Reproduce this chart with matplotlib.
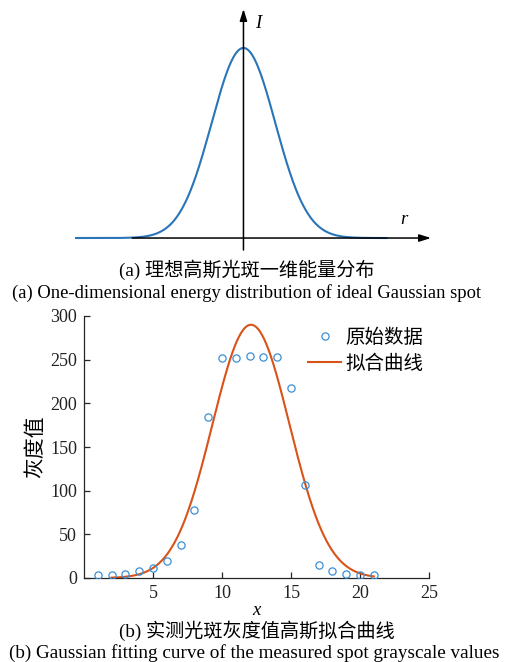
import numpy as np
import matplotlib
matplotlib.use("Agg")
import matplotlib.pyplot as plt
from matplotlib.lines import Line2D

# ---------------- data ----------------
# (b) measured spot grayscale values
pixel_x = [1, 2, 3, 4, 5, 6, 7, 8, 9, 10, 11, 12, 13, 14, 15, 16, 17, 18, 19, 20, 21]
gray_vals = [3, 4, 5, 8, 11, 20, 38, 78, 184, 252, 252, 254, 253, 253, 218, 106, 15, 8, 5, 4, 3]
# Gaussian fit parameters (a * exp(-((x-b)/c)^2))
fit_a = 290.0
fit_b = 12.1
fit_c = 3.95
fit_range = (2.0, 21.0)
x_ticks = [5, 10, 15, 20, 25]
y_ticks = [0, 50, 100, 150, 200, 250, 300]
legend_labels = ["原始数据", "拟合曲线"]

# (a) ideal Gaussian spot
ideal_sigma = 1.0
ideal_peak = 1.0
ideal_r_range = (-5.3, 4.5)

cap_a_cn = "(a) 理想高斯光斑一维能量分布"
cap_a_en = "(a) One-dimensional energy distribution of ideal Gaussian spot"
cap_b_cn = "(b) 实测光斑灰度值高斯拟合曲线"
cap_b_en = "(b) Gaussian fitting curve of the measured spot grayscale values"

# ---------------- style ----------------
SERIF = ["Liberation Serif", "DejaVu Serif"]
MIX = ["Liberation Serif", "Noto Sans CJK SC"]
CJK = ["Noto Sans CJK SC", "DejaVu Sans"]
BLUE = "#3a8fd6"
ORANGE = "#d95319"
AXC = "#262626"

W, H = 514, 662
fig = plt.figure(figsize=(W / 100, H / 100), dpi=100)

def fx(px):
    return px / W

def fy(py):
    return 1 - py / H

# ---------------- panel (a) ----------------
axa = fig.add_axes([fx(75), fy(250), fx(431) - fx(75), fy(9) - fy(250)])
axa.set_xlim(-5.3, 5.9)
axa.set_ylim(-0.063, 1.205)
axa.axis("off")
r = np.linspace(ideal_r_range[0], ideal_r_range[1], 600)
I = ideal_peak * np.exp(-r ** 2 / (2 * ideal_sigma ** 2))
axa.plot(r, I, color="#2a74b8", lw=1.5, zorder=2)
arrow_kw = dict(arrowstyle="-|>,head_length=0.7,head_width=0.22", color="black", lw=1.1,
                shrinkA=0, shrinkB=0)
axa.annotate("", xy=(5.9, 0), xytext=(-3.5, 0), arrowprops=arrow_kw, zorder=3)
axa.annotate("", xy=(0, 1.205), xytext=(0, -0.063), arrowprops=arrow_kw, zorder=3)
axa.text(0.45, 1.13, "I", fontsize=13.5, fontstyle="italic", family=SERIF, ha="center", va="center")
axa.text(5.05, 0.10, "r", fontsize=13.5, fontstyle="italic", family=SERIF, ha="center", va="center")

fig.text(fx(247), fy(270), cap_a_cn, family=MIX, fontsize=13.8, fontweight="medium",
         ha="center", va="center")
fig.text(fx(247), fy(293), cap_a_en, family=SERIF, fontsize=13.4, ha="center", va="center")

# ---------------- panel (b) ----------------
axb = fig.add_axes([fx(84), fy(578), fx(429) - fx(84), fy(316) - fy(578)])
xf = np.linspace(fit_range[0], fit_range[1], 400)
yf = fit_a * np.exp(-((xf - fit_b) / fit_c) ** 2)
axb.plot(pixel_x, gray_vals, linestyle="none", marker="o", markersize=5.2,
         markerfacecolor="none", markeredgecolor=BLUE, markeredgewidth=0.9, zorder=3)
axb.plot(xf, yf, color=ORANGE, lw=1.5, zorder=2)
axb.set_xlim(0, 25)
axb.set_ylim(0, 300)
axb.set_xticks(x_ticks)
axb.set_yticks(y_ticks)
for s in ["top", "right"]:
    axb.spines[s].set_visible(False)
for s in ["left", "bottom"]:
    axb.spines[s].set_color(AXC)
    axb.spines[s].set_linewidth(0.9)
axb.tick_params(direction="in", length=4, width=0.9, color=AXC, labelsize=13,
                labelcolor="#222222", pad=5)
for lab in axb.get_xticklabels() + axb.get_yticklabels():
    lab.set_family(SERIF)
axb.set_xlabel("x", family=SERIF, fontstyle="italic", fontsize=13.5, labelpad=0)
axb.set_ylabel("灰度值", family=CJK, fontsize=15, labelpad=3)

handles = [Line2D([], [], linestyle="none", marker="o", markersize=5.2, markerfacecolor="none",
                  markeredgecolor=BLUE, markeredgewidth=0.9),
           Line2D([], [], color=ORANGE, lw=1.5)]
leg = axb.legend(handles, legend_labels, prop={"family": CJK, "size": 14}, frameon=False,
                 loc="upper right", handlelength=1.7, handletextpad=0.2,
                 labelspacing=0.25, borderaxespad=0, borderpad=0)
leg.set_bbox_to_anchor((fx(423), fy(327)), transform=fig.transFigure)

fig.text(fx(257), fy(631), cap_b_cn, family=MIX, fontsize=13.8, fontweight="medium",
         ha="center", va="center")
fig.text(fx(254), fy(653), cap_b_en, family=SERIF, fontsize=13.8, ha="center", va="center")

fig.savefig("out.png", dpi=100)
